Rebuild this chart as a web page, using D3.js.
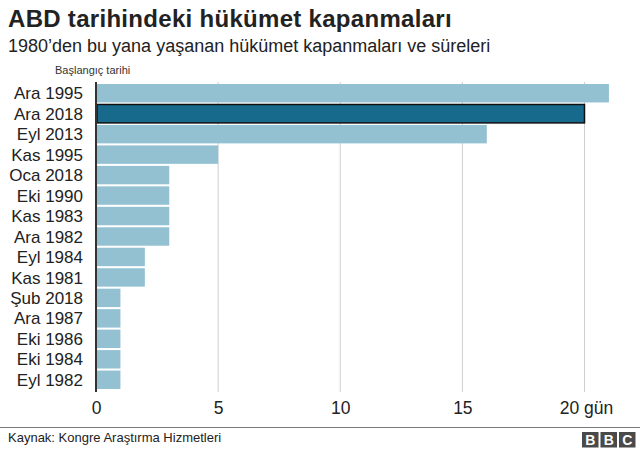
<!DOCTYPE html>
<html>
<head>
<meta charset="utf-8">
<script src="https://cdn.jsdelivr.net/npm/d3@7"></script>
<style>
  html, body { margin: 0; padding: 0; background: #fff; }
  svg { display: block; font-family: "Liberation Sans", Arial, Helvetica, sans-serif; }
</style>
</head>
<body>
<svg id="chart" width="640" height="450"></svg>
<script>
// ---- data ----
const categories = ["Ara 1995","Ara 2018","Eyl 2013","Kas 1995","Oca 2018","Eki 1990","Kas 1983","Ara 1982","Eyl 1984","Kas 1981","Şub 2018","Ara 1987","Eki 1986","Eki 1984","Eyl 1982"];
const days = [21, 20, 16, 5, 3, 3, 3, 3, 2, 2, 1, 1, 1, 1, 1];
const highlighted = ["Ara 2018"];
const tickValues = [0, 5, 10, 15, 20];
const tickLabels = ["0", "5", "10", "15", "20 gün"];
const titleText = "ABD tarihindeki hükümet kapanmaları";
const subtitleText = "1980’den bu yana yaşanan hükümet kapanmaları ve süreleri";
const axisTitle = "Başlangıç tarihi";
const sourceText = "Kaynak: Kongre Araştırma Hizmetleri";

// ---- drawing ----
const svg = d3.select("#chart");
const x = d3.scaleLinear().domain([0, 20]).range([96, 584.5]);
const y = d3.scaleBand().domain(categories).range([83, 390]).paddingInner(0.1).paddingOuter(0.05);

svg.append("text").attr("x", 8).attr("y", 27)
  .attr("font-size", 24).attr("font-weight", "bold").attr("fill", "#222")
  .attr("letter-spacing", 0.3).text(titleText);
svg.append("text").attr("x", 8).attr("y", 52)
  .attr("font-size", 18).attr("fill", "#222").text(subtitleText);
svg.append("text").attr("x", 55).attr("y", 73.5)
  .attr("font-size", 11).attr("fill", "#333").text(axisTitle);

// gridlines
svg.append("g").selectAll("line").data(tickValues.slice(1)).join("line")
  .attr("x1", d => x(d)).attr("x2", d => x(d))
  .attr("y1", 82).attr("y2", 392)
  .attr("stroke", "#cfcfcf").attr("stroke-width", 1);

// bars
const data = categories.map((c, i) => ({ c, v: days[i], hi: highlighted.includes(c) }));
svg.append("g").selectAll("rect").data(data).join("rect")
  .attr("x", x(0) + 1)
  .attr("y", d => y(d.c))
  .attr("width", d => x(d.v) - x(0) - 1)
  .attr("height", y.bandwidth())
  .attr("fill", d => d.hi ? "#176a8c" : "#93c1d2")
  .attr("stroke", d => d.hi ? "#111" : "none")
  .attr("stroke-width", d => d.hi ? 1.5 : 0);

// category labels
svg.append("g").selectAll("text").data(categories).join("text")
  .attr("x", 83).attr("y", d => y(d) + y.bandwidth() / 2)
  .attr("dy", "0.36em").attr("text-anchor", "end")
  .attr("font-size", 17).attr("fill", "#222").text(d => d);

// y axis line
svg.append("line").attr("x1", x(0)).attr("x2", x(0)).attr("y1", 82).attr("y2", 392)
  .attr("stroke", "#333").attr("stroke-width", 2);

// x axis tick labels
const xAxis = d3.axisBottom(x).tickValues(tickValues).tickSize(0).tickPadding(0)
  .tickFormat((d, i) => tickLabels[i]);
const gx = svg.append("g").attr("transform", "translate(0,397)").call(xAxis);
gx.select(".domain").remove();
gx.selectAll("text").attr("font-size", 17.5).attr("fill", "#222")
  .attr("font-family", "'Liberation Sans', Arial, sans-serif").attr("dy", "0.95em");
gx.selectAll(".tick").filter((d, i) => i === tickValues.length - 1).select("text")
  .attr("dx", 1.5);

// footer
svg.append("line").attr("x1", 0).attr("x2", 640).attr("y1", 427.5).attr("y2", 427.5)
  .attr("stroke", "#7a7a7a").attr("stroke-width", 1);
svg.append("text").attr("x", 8).attr("y", 442)
  .attr("font-size", 13).attr("fill", "#222").text(sourceText);

const logo = svg.append("g").attr("transform", "translate(582,432)");
["B", "B", "C"].forEach((l, i) => {
  logo.append("rect").attr("x", i * 18.5).attr("y", 0).attr("width", 16.5).attr("height", 15.5).attr("fill", "#4a4a4a");
  logo.append("text").attr("x", i * 18.5 + 8.25).attr("y", 13).attr("text-anchor", "middle")
    .attr("font-size", 14).attr("font-weight", "bold").attr("fill", "#fff").text(l);
});
</script>
</body>
</html>
